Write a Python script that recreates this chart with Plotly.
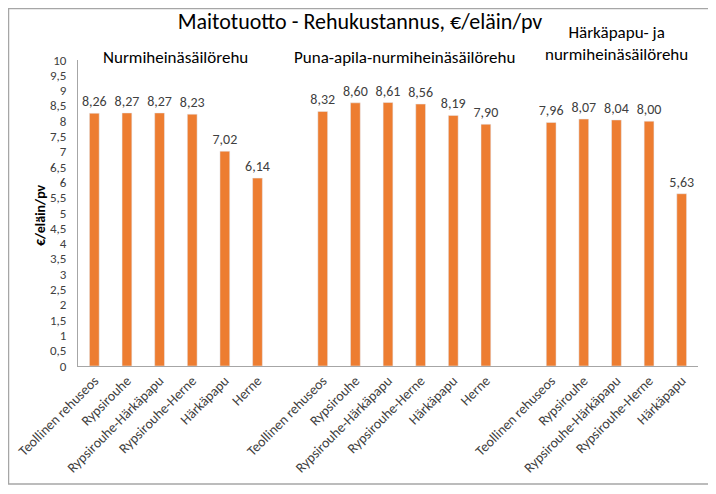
import plotly.graph_objects as go

# ---- data ----
groups = ["Nurmiheinäsäilörehu", "Puna-apila-nurmiheinäsäilörehu", "Härkäpapu- ja<br>nurmiheinäsäilörehu"]
cats_g1 = ["Teollinen rehuseos", "Rypsirouhe", "Rypsirouhe-Härkäpapu", "Rypsirouhe-Herne", "Härkäpapu", "Herne"]
vals_g1 = [8.26, 8.27, 8.27, 8.23, 7.02, 6.14]
cats_g2 = ["Teollinen rehuseos", "Rypsirouhe", "Rypsirouhe-Härkäpapu", "Rypsirouhe-Herne", "Härkäpapu", "Herne"]
vals_g2 = [8.32, 8.60, 8.61, 8.56, 8.19, 7.90]
cats_g3 = ["Teollinen rehuseos", "Rypsirouhe", "Rypsirouhe-Härkäpapu", "Rypsirouhe-Herne", "Härkäpapu"]
vals_g3 = [7.96, 8.07, 8.04, 8.00, 5.63]
yticks = [i * 0.5 for i in range(21)]

title = "Maitotuotto - Rehukustannus, €/eläin/pv"
ytitle = "€/eläin/pv"

FONT = "Carlito, Lato, sans-serif"
ORANGE = "#ED7D31"
GREY_TXT = "#404040"

# positions: one blank slot between groups
xs, labels, vals, centers = [], [], [], []
pos = 0
for cats, vs in [(cats_g1, vals_g1), (cats_g2, vals_g2), (cats_g3, vals_g3)]:
    start = pos
    for c, v in zip(cats, vs):
        xs.append(pos); labels.append(c); vals.append(v); pos += 1
    centers.append((start + pos - 1) / 2)
    pos += 1
last = xs[-1]

def fmt(v):
    return f"{v:.2f}".replace(".", ",")

def fmt_tick(v):
    return f"{v:g}".replace(".", ",")

fig = go.Figure(go.Bar(
    x=xs, y=vals, width=0.3, marker_color=ORANGE,
    text=[fmt(v) for v in vals], textposition="outside", constraintext="none",
    textfont=dict(family=FONT, size=14, color=GREY_TXT),
    cliponaxis=False, hoverinfo="skip",
))

OFF = 8  # browser body margin
W, H = 716 - OFF, 494 - OFF
L, T = 78 - OFF, 60 - OFF
pw, ph = 620, 306
R, B = W - L - pw, H - T - ph

def py(page_y):
    return (T + ph - (page_y - OFF)) / ph

def px(page_x):
    return ((page_x - OFF) - L) / pw

fig.update_layout(
    width=W, height=H,
    margin=dict(l=L, r=R, t=T, b=B, autoexpand=False),
    paper_bgcolor="white", plot_bgcolor="white",
    showlegend=False,
    font=dict(family=FONT, color=GREY_TXT),
    title=dict(text=title, x=px(360), xref="paper", xanchor="center", y=1 - (21 - OFF) / H, yanchor="middle",
               font=dict(family=FONT, size=22, color="#000000")),
    xaxis=dict(range=[-0.5, last + 0.5], tickmode="array", tickvals=xs, ticktext=labels,
               tickangle=-45, tickfont=dict(family=FONT, size=14, color=GREY_TXT), automargin=False,
               showline=True, linecolor="#A6A6A6", linewidth=1, showgrid=False, ticks="", zeroline=False),
    yaxis=dict(range=[0, 10], tickmode="array", tickvals=yticks, ticktext=[fmt_tick(v) for v in yticks],
               tickfont=dict(family=FONT, size=13, color=GREY_TXT), automargin=False, ticklabelstandoff=8,
               showline=True, linecolor="#A6A6A6", linewidth=1, showgrid=False, ticks="", zeroline=False),
)

# y-axis title
fig.add_annotation(text=ytitle, xref="paper", yref="paper", x=px(40), y=py(215),
                   textangle=-90, showarrow=False,
                   font=dict(family=FONT, size=14, color="#000000", weight="bold"),
                   xanchor="center", yanchor="middle")

# group labels
group_y = [57, 57, 44]
for g, c, gy in zip(groups, centers, group_y):
    fig.add_annotation(text=g, x=c, xref="x", yref="paper", y=py(gy),
                       showarrow=False, font=dict(family=FONT, size=17, color="#000000"),
                       xanchor="center", yanchor="middle")

# chart border
fig.add_shape(type="rect", xref="paper", yref="paper",
              x0=px(OFF + 0.5), x1=px(714), y0=py(484), y1=py(OFF + 0.5),
              line=dict(color="#A6A6A6", width=1.5), fillcolor="rgba(0,0,0,0)", layer="below")

fig.write_html("out.html")
